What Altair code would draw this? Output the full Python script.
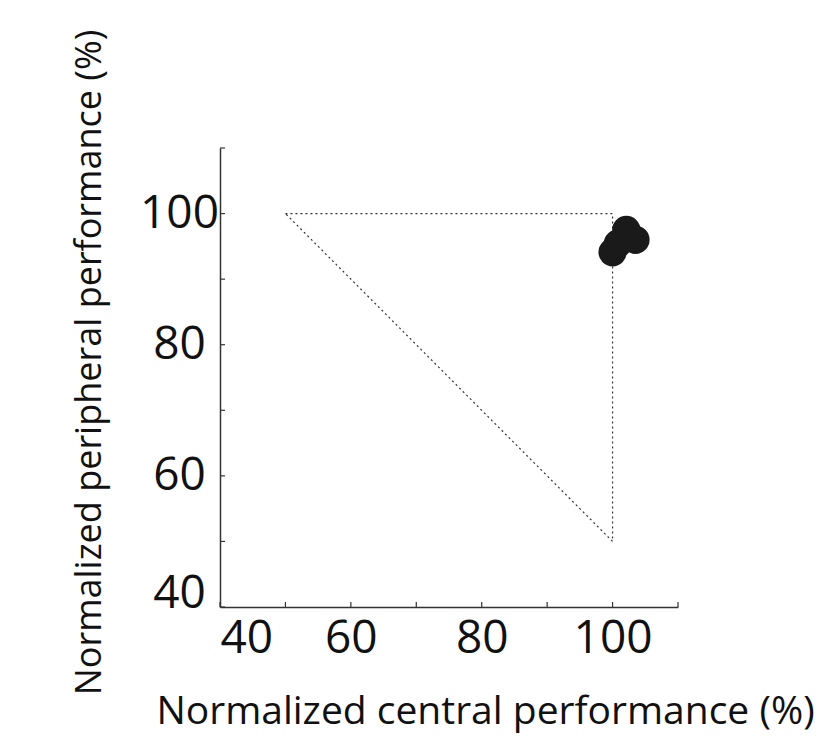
import altair as alt
import pandas as pd

# data
pts_x = [100.0, 100.8, 102.1, 103.5]
pts_y = [94.1, 95.4, 97.5, 96.0]
tri_x = [50, 100, 100, 50]
tri_y = [100, 100, 50, 100]
tick_vals = [40, 50, 60, 70, 80, 90, 100, 110]
label_vals = [40, 60, 80, 100]

W, H = 458, 459
FONT = "Open Sans"

pts = pd.DataFrame({"x": pts_x, "y": pts_y})
tri = pd.DataFrame({"x": tri_x, "y": tri_y, "o": list(range(len(tri_x)))})
ticks = pd.DataFrame({"v": tick_vals})

xs = alt.Scale(domain=[40, 110], nice=False, zero=False)
ys = alt.Scale(domain=[40, 110], nice=False, zero=False)

xaxis = alt.Axis(values=label_vals, tickSize=0, grid=False, domainColor="#333", domainWidth=1.5,
                 labelFont=FONT, labelFontSize=46, labelColor="#111", labelPadding=9,
                 title="Normalized central performance (%)", titleFont=FONT, titleFontSize=39,
                 titleFontWeight="normal", titleColor="#111", titleX=265, titleY=116,
                 titleBaseline="alphabetic", titleAnchor="middle", titleAlign="center")
yaxis = alt.Axis(values=label_vals, tickSize=0, grid=False, domainColor="#333", domainWidth=1.5,
                 labelFont=FONT, labelFontSize=46, labelColor="#111", labelPadding=41,
                 labelAlign="center",
                 labelBaseline={"condition": {"test": "datum.value == 40", "value": "alphabetic"},
                                "value": "middle"},
                 title="Normalized peripheral performance (%)", titleFont=FONT, titleFontSize=36,
                 titleFontWeight="normal", titleColor="#111", titleX=-120, titleY=214,
                 titleAngle=-90, titleBaseline="alphabetic", titleAnchor="middle", titleAlign="center")

base_axes = alt.Chart(pts).mark_point(opacity=0).encode(
    x=alt.X("x:Q", scale=xs, axis=xaxis),
    y=alt.Y("y:Q", scale=ys, axis=yaxis),
)

triangle = alt.Chart(tri).mark_line(color="#333", strokeWidth=1.2, strokeDash=[2, 3]).encode(
    x=alt.X("x:Q", scale=xs), y=alt.Y("y:Q", scale=ys), order="o:O")

xticks = alt.Chart(ticks).mark_rule(color="#333", strokeWidth=1.2).encode(
    x=alt.X("v:Q", scale=xs), y=alt.value(H), y2=alt.value(H - 5))
yticks = alt.Chart(ticks).mark_rule(color="#333", strokeWidth=1.2).encode(
    y=alt.Y("v:Q", scale=ys), x=alt.value(0), x2=alt.value(5))

points = alt.Chart(pts).mark_circle(size=800, color="#1a1a1a", opacity=1).encode(
    x=alt.X("x:Q", scale=xs), y=alt.Y("y:Q", scale=ys))

chart = alt.layer(base_axes, triangle, xticks, yticks, points).properties(
    width=W, height=H,
    background="white",
    autosize=alt.AutoSizeParams(type="none"),
    padding={"left": 220, "top": 148, "right": 159, "bottom": 130},
).configure_view(strokeWidth=0, stroke=None)

chart.save("out.html", embed_options={"renderer": "svg", "actions": False})
